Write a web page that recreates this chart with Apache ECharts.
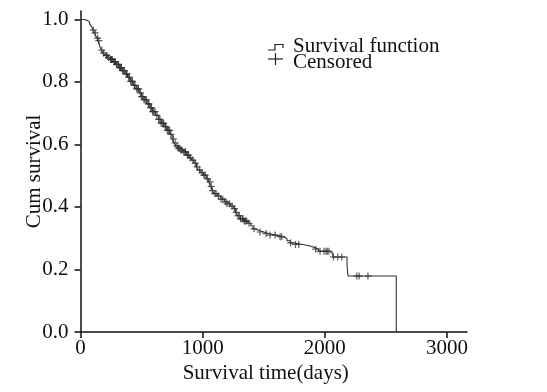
<!DOCTYPE html>
<html>
<head>
<meta charset="utf-8">
<script src="https://cdn.jsdelivr.net/npm/echarts@6/dist/echarts.min.js"></script>
<style>
html,body{margin:0;padding:0;background:#fff;}
#chart{width:547px;height:392px;}
</style>
</head>
<body>
<div id="chart"></div>
<script>
// Kaplan-Meier step points: event times (days) and survival after each event
const eventTimes = [0, 30, 55, 75, 90, 103, 115, 125, 135, 144, 152, 160, 172, 185, 200, 220, 240, 267, 290, 315, 340, 365, 385, 405, 431, 455, 480, 500, 520, 545, 568, 590, 615, 640, 660, 685, 710, 732, 750, 765, 780, 800, 820, 841, 865, 890, 910, 930, 950, 965, 985, 1005, 1030, 1050, 1065, 1080, 1095, 1120, 1150, 1180, 1200, 1225, 1251, 1270, 1285, 1310, 1340, 1370, 1395, 1412, 1430, 1460, 1500, 1540, 1600, 1660, 1690, 1715, 1750, 1820, 1880, 1920, 1950, 2040, 2065, 2182, 2190, 2585];
const survival = [1.0, 0.997, 0.992, 0.985, 0.977, 0.966, 0.957, 0.948, 0.94, 0.932, 0.922, 0.912, 0.902, 0.892, 0.885, 0.878, 0.872, 0.865, 0.856, 0.846, 0.836, 0.826, 0.815, 0.802, 0.789, 0.778, 0.765, 0.753, 0.743, 0.73, 0.718, 0.705, 0.693, 0.68, 0.668, 0.657, 0.645, 0.632, 0.618, 0.605, 0.595, 0.588, 0.582, 0.576, 0.566, 0.557, 0.55, 0.54, 0.528, 0.518, 0.51, 0.502, 0.49, 0.48, 0.466, 0.452, 0.443, 0.435, 0.425, 0.416, 0.41, 0.403, 0.395, 0.383, 0.372, 0.362, 0.355, 0.348, 0.34, 0.33, 0.325, 0.32, 0.315, 0.31, 0.305, 0.299, 0.292, 0.285, 0.28, 0.275, 0.27, 0.265, 0.258, 0.252, 0.24, 0.212, 0.179, 0.0];
// Censored observation times (days)
const censoredTimes = [105, 120, 140, 150, 175, 190, 210, 215, 230, 245, 250, 255, 260, 275, 280, 285, 295, 300, 310, 320, 325, 330, 335, 345, 350, 360, 375, 380, 395, 400, 410, 420, 425, 440, 445, 460, 470, 475, 490, 500, 510, 520, 530, 540, 555, 560, 575, 580, 590, 600, 610, 625, 640, 650, 660, 670, 680, 695, 700, 710, 720, 730, 740, 760, 775, 790, 800, 810, 820, 830, 845, 855, 860, 875, 885, 900, 920, 940, 955, 975, 995, 1010, 1020, 1040, 1060, 1070, 1080, 1100, 1110, 1130, 1150, 1165, 1190, 1200, 1220, 1240, 1260, 1275, 1290, 1300, 1310, 1325, 1330, 1340, 1350, 1361, 1380, 1420, 1470, 1520, 1552, 1593, 1634, 1648, 1720, 1760, 1787, 1925, 1961, 1993, 2010, 2020, 2034, 2070, 2106, 2139, 2262, 2281, 2353];
const xTicks = [0, 1000, 2000, 3000];
const yTicks = [0, 0.2, 0.4, 0.6, 0.8, 1.0];
const legendNames = ['Survival function', 'Censored'];
const xName = 'Survival time(days)';
const yName = 'Cum survival';

function survivalAt(t) {
  let s = survival[0];
  for (let i = 0; i < eventTimes.length; i++) {
    if (eventTimes[i] <= t) s = survival[i]; else break;
  }
  return s;
}

const stepData = eventTimes.map((t, i) => [t, survival[i]]);
const censorData = censoredTimes.map(t => [t, survivalAt(t)]);

const FONT = 'Liberation Serif';
const FS = 21;
const chart = echarts.init(document.getElementById('chart'), null, {renderer: 'canvas'});
const crossPath = 'path://M-0.6,-3.5 L0.6,-3.5 L0.6,-0.6 L3.5,-0.6 L3.5,0.6 L0.6,0.6 L0.6,3.5 L-0.6,3.5 L-0.6,0.6 L-3.5,0.6 L-3.5,-0.6 L-0.6,-0.6 Z';

chart.setOption({
  animation: false,
  backgroundColor: '#fff',
  grid: {left: 80.5, right: 80, top: 11, bottom: 60, containLabel: false},
  xAxis: {
    type: 'value', min: 0, max: 3164,
    name: xName, nameLocation: 'middle', nameGap: 31, nameMoveOverlap: false,
    nameTextStyle: {fontFamily: FONT, fontSize: FS, color: '#111', padding: [0, 16, 0, 0]},
    axisLine: {show: true, lineStyle: {color: '#111', width: 1.5}},
    axisTick: {show: true, length: 6, customValues: xTicks, lineStyle: {color: '#111', width: 1.5}},
    axisLabel: {customValues: xTicks, fontFamily: FONT, fontSize: FS, color: '#111', margin: 6,
      formatter: v => String(v)},
    splitLine: {show: false}
  },
  yAxis: {
    type: 'value', min: 0, max: 1.027,
    name: yName, nameLocation: 'middle', nameGap: 36, nameRotate: 90, nameMoveOverlap: false,
    nameTextStyle: {fontFamily: FONT, fontSize: FS, color: '#111'},
    axisLine: {show: true, lineStyle: {color: '#111', width: 1.5}},
    axisTick: {show: true, length: 6, customValues: yTicks, lineStyle: {color: '#111', width: 1.5}},
    axisLabel: {customValues: yTicks, fontFamily: FONT, fontSize: FS, color: '#111', margin: 12,
      formatter: v => v.toFixed(1)},
    splitLine: {show: false}
  },
  graphic: [
    {type: 'polyline', shape: {points: [[268, 50], [275, 50], [275, 44.5], [283, 44.5], [283, 48]]},
      style: {stroke: '#222', lineWidth: 1.2, fill: null}},
    {type: 'text', x: 293, y: 46, style: {text: legendNames[0], font: FS + 'px "Liberation Serif"', fill: '#111', verticalAlign: 'middle'}},
    {type: 'line', shape: {x1: 268, y1: 59, x2: 283, y2: 59}, style: {stroke: '#222', lineWidth: 1.2}},
    {type: 'line', shape: {x1: 275.5, y1: 53, x2: 275.5, y2: 65}, style: {stroke: '#222', lineWidth: 1.2}},
    {type: 'text', x: 293, y: 62, style: {text: legendNames[1], font: FS + 'px "Liberation Serif"', fill: '#111', verticalAlign: 'middle'}}
  ],
  series: [
    {
      name: legendNames[0], type: 'line', step: 'end', data: stepData,
      showSymbol: false, symbol: 'none',
      lineStyle: {color: '#333', width: 1.1}
    },
    {
      name: legendNames[1], type: 'scatter', data: censorData,
      symbol: crossPath, symbolSize: 7,
      itemStyle: {color: '#333'}
    }
  ]
});
</script>
</body>
</html>
